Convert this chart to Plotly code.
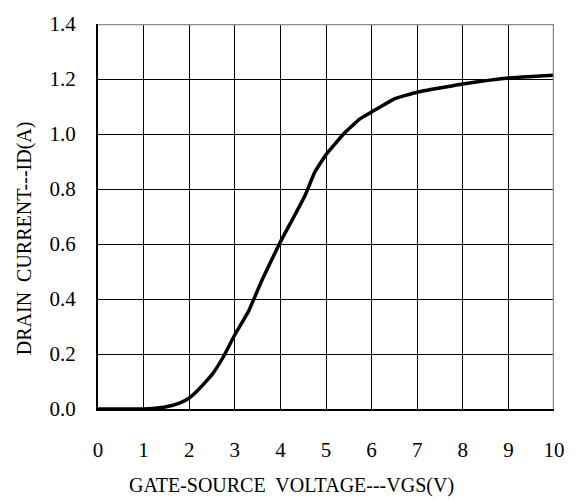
import plotly.graph_objects as go

vgs = [0, 0.5, 1.0, 1.2, 1.5, 1.8, 2.0, 2.2, 2.5, 2.75, 3.0, 3.3, 3.6, 4.0, 4.3, 4.55,
       4.75, 5.0, 5.4, 5.75, 6.0, 6.5, 7.0, 8.0, 9.0, 10.0]
id_a = [0, 0, 0.0, 0.002, 0.008, 0.022, 0.04, 0.07, 0.125, 0.19, 0.27, 0.355, 0.47, 0.608,
        0.70, 0.78, 0.86, 0.925, 1.003, 1.056, 1.08, 1.128, 1.152, 1.182, 1.204, 1.214]

x_ticks = list(range(0, 11))
y_ticks = [0.0, 0.2, 0.4, 0.6, 0.8, 1.0, 1.2, 1.4]
y_tick_labels = ["0.0", "0.2", "0.4", "0.6", "0.8", "1.0", "1.2", "1.4"]
x_title = "GATE-SOURCE  VOLTAGE---VGS(V)"
y_title = "DRAIN  CURRENT---ID(A)"

FONT = "Liberation Serif"

fig = go.Figure()
fig.add_trace(go.Scatter(x=vgs, y=id_a, mode="lines",
                         line=dict(color="black", width=3.5, shape="spline", smoothing=0.3),
                         showlegend=False, hoverinfo="skip"))

fig.update_layout(
    width=577, height=500,
    margin=dict(l=98, r=21, t=19, b=91),
    paper_bgcolor="white", plot_bgcolor="white",
    font=dict(family=FONT, size=20, color="black"),
    xaxis=dict(range=[0, 10], tickvals=x_ticks, showgrid=True, gridcolor="black",
               gridwidth=1, showline=True, linecolor="black", linewidth=2,
               zeroline=False, ticks="", ticklabelstandoff=21,
               tickfont=dict(family=FONT, size=21, color="black"), fixedrange=True),
    yaxis=dict(range=[0, 1.4], tickvals=y_ticks, ticktext=y_tick_labels, showgrid=True,
               gridcolor="black", gridwidth=1, showline=True, linecolor="black",
               linewidth=2, zeroline=False, ticks="", ticklabelstandoff=16,
               tickfont=dict(family=FONT, size=21, color="black"), fixedrange=True),
    shapes=[
        dict(type="line", xref="x", yref="y", x0=0, x1=10, y0=1.4, y1=1.4,
             line=dict(color="#8c8c8c", width=2.5)),
        dict(type="line", xref="x", yref="y", x0=10, x1=10, y0=0, y1=1.4,
             line=dict(color="#8c8c8c", width=2.5)),
    ],
    annotations=[
        dict(text=x_title, xref="paper", yref="paper", x=(292.5 - 98) / 458,
             y=-(486.5 - 409.3) / 390, xanchor="center", yanchor="middle",
             showarrow=False, font=dict(family=FONT, size=20, color="black")),
        dict(text=y_title, xref="paper", yref="paper", x=-(98 - 25) / 458,
             y=-(236 - 409.3) / 390, xanchor="center", yanchor="middle",
             textangle=-90, showarrow=False,
             font=dict(family=FONT, size=20, color="black")),
    ],
)

fig.write_html("out.html", post_script="document.body.style.margin='0';",
               config={"displayModeBar": False})
